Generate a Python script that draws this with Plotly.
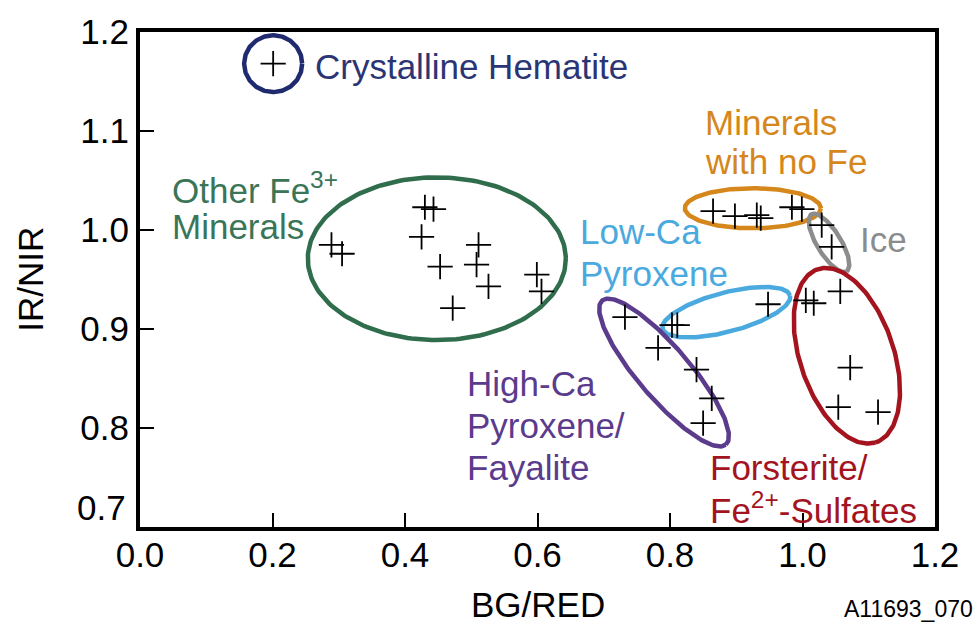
import numpy as np
import plotly.graph_objects as go

# BG/RED vs IR/NIR band ratios for each mineral group
hematite_x = [0.201]
hematite_y = [1.168]

fe3_x = [0.289, 0.305, 0.430, 0.443, 0.425, 0.453, 0.511, 0.508, 0.526, 0.472, 0.599, 0.606]
fe3_y = [0.985, 0.976, 1.023, 1.021, 0.993, 0.963, 0.985, 0.965, 0.943, 0.921, 0.955, 0.938]

nofe_x = [0.865, 0.898, 0.931, 0.937, 0.984, 0.999]
nofe_y = [1.019, 1.014, 1.015, 1.012, 1.023, 1.021]

ice_x = [1.029, 1.044]
ice_y = [1.005, 0.983]

lowca_x = [0.948, 0.811]
lowca_y = [0.925, 0.904]

highca_x = [0.732, 0.803, 0.782, 0.840, 0.863, 0.850]
highca_y = [0.912, 0.904, 0.881, 0.859, 0.830, 0.805]

forst_x = [1.005, 1.017, 1.057, 1.072, 1.054, 1.114]
forst_y = [0.929, 0.926, 0.938, 0.861, 0.821, 0.816]

x_ticks = [0.0, 0.2, 0.4, 0.6, 0.8, 1.0, 1.2]
y_ticks = [0.7, 0.8, 0.9, 1.0, 1.1, 1.2]

X_RANGE = [0.0, 1.2]
Y_RANGE = [0.7, 1.2]

W, H = 979, 631
M_L, M_R, M_T, M_B = 140, 44, 22, 104
PLOT_W = W - M_L - M_R
PLOT_H = H - M_T - M_B
SX = PLOT_W / (X_RANGE[1] - X_RANGE[0])   # px per x unit
SY = PLOT_H / (Y_RANGE[1] - Y_RANGE[0])   # px per y unit

FONT = "Liberation Sans, Arial, sans-serif"
FS = 35

NAVY = "#1f2b6e"
GREEN = "#2f6d4c"
ORANGE = "#d5871c"
GRAY = "#8c8c8c"
BLUE = "#4aa9de"
PURPLE = "#5b3b8c"
RED = "#a3141e"

# group outlines: centre (data), semi-axes (px), rotation (deg, clockwise on screen)
outlines = [
    dict(c=(hematite_x[0], hematite_y[0]), a=29, b=29, ang=0, color=NAVY),
    dict(c=(0.448, 0.971), a=129, b=83, ang=0, color=GREEN),
    dict(c=(0.925, 1.022), a=68, b=20.5, ang=0, color=ORANGE),
    dict(c=(1.040, 0.987), a=34, b=12, ang=59, color=GRAY),
    dict(c=(0.885, 0.917), a=66, b=20, ang=-15, color=BLUE),
    dict(c=(0.791, 0.856), a=96, b=26, ang=50, color=PURPLE),
    dict(c=(1.067, 0.873), a=93, b=47, ang=72, color=RED),
]


def ellipse(c, a, b, ang):
    t = np.linspace(0, 2 * np.pi, 200)
    th = np.radians(ang)
    dx = a * np.cos(t) * np.cos(th) - b * np.sin(t) * np.sin(th)
    dy = a * np.cos(t) * np.sin(th) + b * np.sin(t) * np.cos(th)
    return c[0] + dx / SX, c[1] - dy / SY


fig = go.Figure()

for o in outlines:
    ex, ey = ellipse(o["c"], o["a"], o["b"], o["ang"])
    fig.add_trace(go.Scatter(x=ex, y=ey, mode="lines",
                             line=dict(color=o["color"], width=4.5),
                             hoverinfo="skip", showlegend=False))

all_x = hematite_x + fe3_x + nofe_x + ice_x + lowca_x + highca_x + forst_x
all_y = hematite_y + fe3_y + nofe_y + ice_y + lowca_y + highca_y + forst_y
fig.add_trace(go.Scatter(
    x=all_x, y=all_y, mode="markers",
    marker=dict(symbol="cross-thin", size=18, color="black",
                line=dict(color="black", width=1.8)),
    showlegend=False,
))

# group labels, one annotation per line
labels = [
    ("Crystalline Hematite", 0.261, 57, "#2b3574"),
    ("Other Fe<sup>3+</sup>", 0.046, 181, "#3a7557"),
    ("Minerals", 0.046, 220, "#3a7557"),
    ("Minerals", 0.850, 114, ORANGE),
    ("with no Fe", 0.850, 154, ORANGE),
    ("Ice", 1.084, 234, GRAY),
    ("Low-Ca", 0.661, 226, BLUE),
    ("Pyroxene", 0.661, 268, BLUE),
    ("High-Ca", 0.491, 381, PURPLE),
    ("Pyroxene/", 0.491, 423, PURPLE),
    ("Fayalite", 0.491, 466, PURPLE),
    ("Forsterite/", 0.857, 466, RED),
    ("Fe<sup>2+</sup>-Sulfates", 0.857, 508, RED),
]
for txt, lx, py, col in labels:
    fig.add_annotation(x=lx, y=Y_RANGE[1] - (py - M_T) / SY, xref="x", yref="y",
                       text=txt, showarrow=False, xanchor="left", yanchor="middle",
                       font=dict(family=FONT, size=FS, color=col))

# lowest y tick label sits slightly above the corner
fig.add_annotation(x=0, y=y_ticks[0], xref="paper", yref="y", text=f"{y_ticks[0]:.1f}",
                   showarrow=False, xanchor="right", yanchor="middle", xshift=-12, yshift=20,
                   font=dict(family=FONT, size=FS, color="black"))

fig.add_annotation(x=-0.138, y=0.5, xref="paper", yref="paper", text="IR/NIR",
                   textangle=-90, showarrow=False, xanchor="center", yanchor="middle",
                   font=dict(family=FONT, size=FS, color="black"))
fig.add_annotation(x=0.5, y=-0.157, xref="paper", yref="paper", text="BG/RED",
                   showarrow=False, xanchor="center", yanchor="middle",
                   font=dict(family=FONT, size=FS, color="black"))
fig.add_annotation(x=1.05, y=-0.165, xref="paper", yref="paper", text="A11693_070",
                   showarrow=False, xanchor="right", yanchor="middle",
                   font=dict(family=FONT, size=23, color="black"))

axis_common = dict(showgrid=False, zeroline=False, showline=True, linecolor="black",
                   linewidth=4, mirror=True, ticks="inside", ticklen=14, tickwidth=2,
                   tickcolor="black", tickfont=dict(family=FONT, size=FS, color="black"))

fig.update_xaxes(range=X_RANGE, tickvals=x_ticks, ticktext=[f"{v:.1f}" for v in x_ticks],
                 ticklabelstandoff=-6, **axis_common)
fig.update_yaxes(range=Y_RANGE, tickvals=y_ticks,
                 ticktext=[""] + [f"{v:.1f}" for v in y_ticks[1:]], **axis_common)

fig.update_layout(width=W, height=H, margin=dict(l=M_L, r=M_R, t=M_T, b=M_B),
                  plot_bgcolor="white", paper_bgcolor="white")

fig.write_html("out.html")
